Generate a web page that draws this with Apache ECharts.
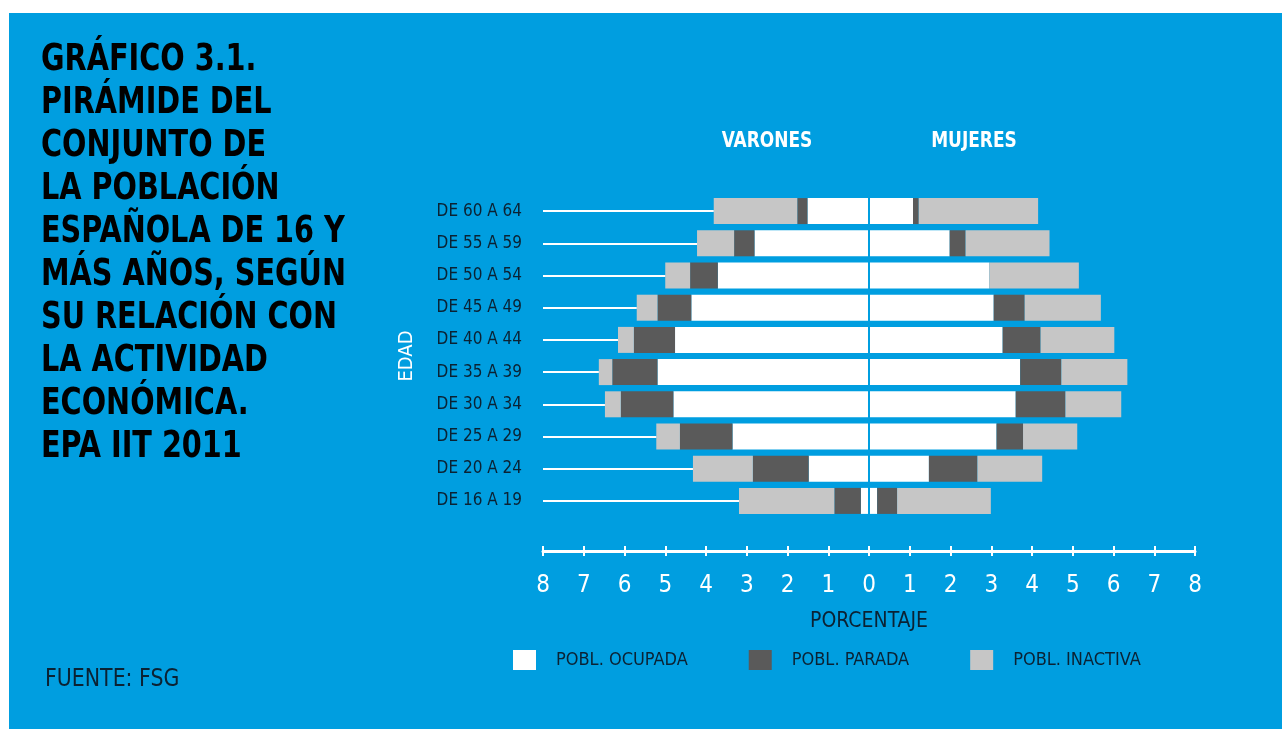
<!DOCTYPE html>
<html>
<head>
<meta charset="utf-8">
<script src="https://cdn.jsdelivr.net/npm/echarts@6/dist/echarts.min.js"></script>
<style>
  html, body { margin: 0; padding: 0; background: #ffffff; }
  #chart { width: 1282px; height: 729px; }
</style>
</head>
<body>
<div id="chart"></div>
<script>
// Age groups, top to bottom
const ageGroups = ['DE 60 A 64', 'DE 55 A 59', 'DE 50 A 54', 'DE 45 A 49', 'DE 40 A 44',
                   'DE 35 A 39', 'DE 30 A 34', 'DE 25 A 29', 'DE 20 A 24', 'DE 16 A 19'];

// Men (% of total population 16+)
const menEmployed   = [1.51, 2.81, 3.71, 4.36, 4.76, 5.19, 4.80, 3.35, 1.48, 0.20];
const menUnemployed = [0.25, 0.50, 0.68, 0.83, 1.01, 1.11, 1.29, 1.29, 1.37, 0.65];
const menInactive   = [2.05, 0.91, 0.61, 0.51, 0.39, 0.33, 0.39, 0.58, 1.47, 2.34];

// Women (% of total population 16+)
const womenEmployed   = [1.08, 1.98, 2.95, 3.06, 3.28, 3.71, 3.60, 3.13, 1.47, 0.20];
const womenUnemployed = [0.14, 0.39, 0.00, 0.76, 0.93, 1.01, 1.22, 0.65, 1.19, 0.49];
const womenInactive   = [2.93, 2.06, 2.20, 1.87, 1.81, 1.62, 1.37, 1.33, 1.59, 2.30];

const seriesNames = ['POBL. OCUPADA', 'POBL. PARADA', 'POBL. INACTIVA'];
const titleLines = ['GRÁFICO 3.1.', 'PIRÁMIDE DEL', 'CONJUNTO DE', 'LA POBLACIÓN',
                    'ESPAÑOLA DE 16 Y', 'MÁS AÑOS, SEGÚN', 'SU RELACIÓN CON',
                    'LA ACTIVIDAD', 'ECONÓMICA.', 'EPA IIT 2011'];

const BLUE = '#009ee0';
const INK = '#0b2233';
const COLORS = ['#ffffff', '#5a5a5a', '#c6c6c6'];
const NARROW = "'Liberation Sans Narrow', 'DejaVu Sans Condensed', 'Roboto Condensed', Roboto, sans-serif";

const chart = echarts.init(document.getElementById('chart'), null, { renderer: 'canvas' });

const neg = arr => arr.map(v => -v);
const menTotals = ageGroups.map((_, i) => menEmployed[i] + menUnemployed[i] + menInactive[i]);

// white guide lines from the left end of the axis to each men's bar
const guideLines = ageGroups.map((g, i) => [
  { coord: [-8, g] },
  { coord: [-menTotals[i], g] }
]);

function barSeries(name, data, stack, color, extra) {
  return Object.assign({
    name: name,
    type: 'bar',
    stack: stack,
    data: data,
    barWidth: 26,
    barGap: '-100%',
    itemStyle: { color: color },
    emphasis: { disabled: true },
    silent: true
  }, extra || {});
}

const option = {
  animation: false,
  backgroundColor: '#ffffff',
  graphic: [
    { type: 'rect', z: -10, shape: { x: 9, y: 13, width: 1273, height: 716 }, style: { fill: BLUE } },
    {
      type: 'text', x: 41, y: 39, scaleX: 0.84, z: 5,
      style: {
        x: 0, y: 0,
        text: titleLines.join('\n'),
        font: "bold 38px " + NARROW,
        fill: '#000000',
        lineHeight: 43
      }
    },
    {
      type: 'text', x: 45, y: 668, scaleX: 0.95, z: 5,
      style: { x: 0, y: 0, text: 'FUENTE: FSG', font: "24px " + NARROW, fill: INK }
    },
    {
      type: 'text', x: 767, y: 142, scaleX: 0.9, z: 5,
      style: { x: 0, y: 0, text: 'VARONES', font: "bold 21px " + NARROW, fill: '#ffffff', align: 'center', verticalAlign: 'middle' }
    },
    {
      type: 'text', x: 974, y: 142, scaleX: 0.9, z: 5,
      style: { x: 0, y: 0, text: 'MUJERES', font: "bold 21px " + NARROW, fill: '#ffffff', align: 'center', verticalAlign: 'middle' }
    }
  ],
  legend: {
    data: seriesNames,
    left: 513, top: 650,
    padding: 0,
    itemWidth: 23, itemHeight: 20,
    itemGap: 61,
    icon: 'rect',
    selectedMode: false,
    textStyle: { color: INK, fontSize: 18, fontFamily: NARROW, padding: [0, 0, 0, 15] }
  },
  grid: { left: 543, width: 652, top: 195, height: 322, containLabel: false },
  xAxis: [
    {
      type: 'value', min: -8, max: 8, interval: 1,
      position: 'bottom', offset: 34,
      name: 'PORCENTAJE', nameLocation: 'middle', nameGap: 60,
      nameTextStyle: { color: INK, fontSize: 21, fontFamily: NARROW },
      axisLine: { show: true, lineStyle: { color: '#ffffff', width: 3 } },
      axisTick: { show: true, length: 5, lineStyle: { color: '#ffffff', width: 2 } },
      axisLabel: { color: '#ffffff', fontSize: 24, fontFamily: NARROW, margin: 23,
                   formatter: v => String(Math.abs(v)) },
      splitLine: { show: false }
    },
    {
      type: 'value', min: -8, max: 8, interval: 1,
      position: 'bottom', offset: 34,
      axisLine: { show: false },
      axisTick: { show: true, inside: true, length: 5, lineStyle: { color: '#ffffff', width: 2 } },
      axisLabel: { show: false },
      splitLine: { show: false }
    }
  ],
  yAxis: {
    type: 'category', data: ageGroups, inverse: true,
    name: 'EDAD', nameLocation: 'middle', nameGap: 126, nameRotate: 90,
    nameTextStyle: { color: '#ffffff', fontSize: 20, fontFamily: NARROW },
    axisLine: { show: false }, axisTick: { show: false },
    axisLabel: { color: INK, fontSize: 17, fontFamily: NARROW, margin: 21 },
    splitLine: { show: false }
  },
  series: [
    barSeries(seriesNames[0], neg(menEmployed), 'men', COLORS[0]),
    barSeries(seriesNames[1], neg(menUnemployed), 'men', COLORS[1]),
    barSeries(seriesNames[2], neg(menInactive), 'men', COLORS[2], {
      markLine: {
        silent: true, symbol: ['none', 'none'], label: { show: false },
        lineStyle: { color: '#ffffff', width: 2, type: 'solid' },
        data: guideLines
      }
    }),
    barSeries(seriesNames[0], womenEmployed, 'women', COLORS[0], {
      markLine: {
        silent: true, symbol: ['none', 'none'], label: { show: false },
        lineStyle: { color: BLUE, width: 2, type: 'solid' },
        data: [{ xAxis: 0 }]
      }
    }),
    barSeries(seriesNames[1], womenUnemployed, 'women', COLORS[1]),
    barSeries(seriesNames[2], womenInactive, 'women', COLORS[2])
  ]
};

chart.setOption(option);
</script>
</body>
</html>
